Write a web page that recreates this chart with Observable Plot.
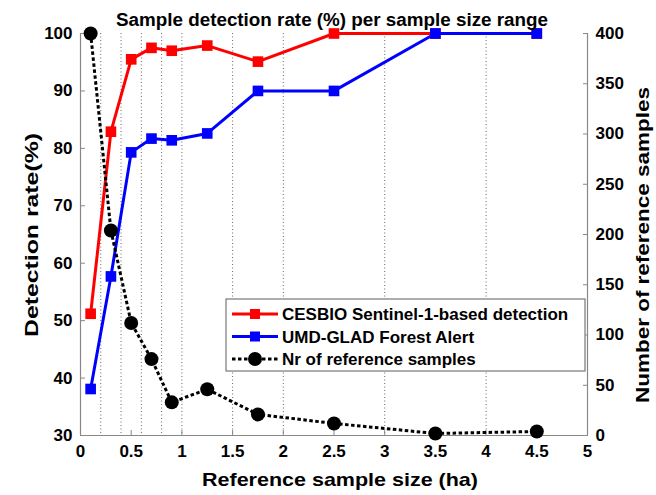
<!DOCTYPE html>
<html>
<head>
<meta charset="utf-8">
<script src="https://cdn.jsdelivr.net/npm/d3@7"></script>
<script src="https://cdn.jsdelivr.net/npm/@observablehq/plot@0.6"></script>
<style>
  html, body { margin: 0; padding: 0; background: #fff; }
  #chart { width: 656px; height: 495px; }
</style>
</head>
<body>
<div id="chart"></div>
<script>
// ---- data ----
const sizeMidpoints = [0.1, 0.3, 0.5, 0.7, 0.9, 1.25, 1.75, 2.5, 3.5, 4.5];
const cesbioRate = [51.2, 82.9, 95.5, 97.5, 97.0, 97.9, 95.1, 100, 100, 100];
const gladRate = [38.1, 57.7, 79.3, 81.7, 81.4, 82.6, 90, 90, 100, 100];
const sampleCounts = [400, 204, 112, 76, 33, 46, 21, 12, 2, 4];
const binEdges = [0.2, 0.4, 0.6, 0.8, 1, 1.5, 2, 3, 4];
const xTicks = [0, 0.5, 1, 1.5, 2, 2.5, 3, 3.5, 4, 4.5, 5];
const rateTicks = [30, 40, 50, 60, 70, 80, 90, 100];
const countTicks = [0, 50, 100, 150, 200, 250, 300, 350, 400];
const seriesNames = ["CESBIO Sentinel-1-based detection", "UMD-GLAD Forest Alert", "Nr of reference samples"];
const titleText = "Sample detection rate (%) per sample size range";
const xLabel = "Reference sample size (ha)";
const yLabel = "Detection rate(%)";
const y2Label = "Number of reference samples";

const rateDomain = [30, 100];
const countDomain = [0, 400];
// secondary axis: map counts onto the rate scale
const toRate = c => rateDomain[0] + (c - countDomain[0]) * (rateDomain[1] - rateDomain[0]) / (countDomain[1] - countDomain[0]);
const toCount = r => (r - rateDomain[0]) * (countDomain[1] - countDomain[0]) / (rateDomain[1] - rateDomain[0]) + countDomain[0];

const rows = sizeMidpoints.map((x, i) => ({x, cesbio: cesbioRate[i], glad: gladRate[i], count: sampleCounts[i]}));

const axisColor = "#888";
const font = "'Liberation Sans', Arial, Helvetica, sans-serif";

const chart = Plot.plot({
  width: 656,
  height: 495,
  marginTop: 33,
  marginBottom: 60,
  marginLeft: 80,
  marginRight: 69,
  style: {fontFamily: font, fontWeight: "bold", fontSize: "17px", color: "black", background: "white"},
  x: {domain: [0, 5]},
  y: {domain: rateDomain},
  marks: [
    Plot.ruleX(binEdges, {stroke: "#666", strokeWidth: 1, strokeDasharray: "1,2.5"}),
    Plot.ruleX([0, 5], {stroke: axisColor, strokeWidth: 1.2}),
    Plot.ruleY([30], {stroke: axisColor, strokeWidth: 1.2}),
    Plot.axisX(xTicks, {label: null, tickSize: -5, tickPadding: 14, stroke: axisColor, tickFormat: d => String(d), fontSize: 17}),
    Plot.axisY(rateTicks, {anchor: "left", label: null, tickSize: -5, tickPadding: 13, stroke: axisColor, tickFormat: d => String(d), fontSize: 17}),
    Plot.axisY(countTicks.map(toRate), {anchor: "right", label: null, tickSize: -5, tickPadding: 13, stroke: axisColor, tickFormat: d => String(Math.round(toCount(d))), fontSize: 17}),
    Plot.line(rows, {x: "x", y: "cesbio", stroke: "#ff0000", strokeWidth: 3}),
    Plot.dot(rows, {x: "x", y: "cesbio", symbol: "square", r: 6, fill: "#ff0000"}),
    Plot.line(rows, {x: "x", y: "glad", stroke: "#0000ff", strokeWidth: 3}),
    Plot.dot(rows, {x: "x", y: "glad", symbol: "square", r: 6, fill: "#0000ff"}),
    Plot.line(rows, {x: "x", y: d => toRate(d.count), stroke: "black", strokeWidth: 3, strokeDasharray: "3.5,2.5", strokeLinecap: "butt"}),
    Plot.dot(rows, {x: "x", y: d => toRate(d.count), r: 7, fill: "black"})
  ]
});

document.getElementById("chart").appendChild(chart);

// ---- titles, axis labels and legend ----
const svg = d3.select(chart);
const g = svg.append("g").attr("font-family", font).attr("font-weight", "bold").attr("fill", "black");
g.append("text").attr("x", 332).attr("y", 26).attr("text-anchor", "middle").attr("font-size", 18)
  .attr("textLength", 432).attr("lengthAdjust", "spacingAndGlyphs").text(titleText);
g.append("text").attr("x", 340).attr("y", 486).attr("text-anchor", "middle").attr("font-size", 19)
  .attr("textLength", 276).attr("lengthAdjust", "spacingAndGlyphs").text(xLabel);
g.append("text").attr("transform", "translate(38,235) rotate(-90)").attr("text-anchor", "middle").attr("font-size", 19)
  .attr("textLength", 204).attr("lengthAdjust", "spacingAndGlyphs").text(yLabel);
g.append("text").attr("transform", "translate(649,245) rotate(-90)").attr("text-anchor", "middle").attr("font-size", 19)
  .attr("textLength", 316).attr("lengthAdjust", "spacingAndGlyphs").text(y2Label);

const lg = g.append("g").attr("transform", "translate(226,299)");
lg.append("rect").attr("width", 359).attr("height", 72).attr("fill", "white").attr("stroke", "#777").attr("stroke-width", 1.2);
const styles = [
  {color: "#ff0000", dash: null, shape: "square"},
  {color: "#0000ff", dash: null, shape: "square"},
  {color: "black", dash: "3.5,2.5", shape: "circle"}
];
seriesNames.forEach((name, i) => {
  const y = 15 + i * 22.5;
  const s = styles[i];
  const row = lg.append("g").attr("transform", `translate(0,${y})`);
  const ln = row.append("line").attr("x1", 6).attr("x2", 52).attr("y1", 0).attr("y2", 0)
    .attr("stroke", s.color).attr("stroke-width", 3);
  if (s.dash) ln.attr("stroke-dasharray", s.dash);
  if (s.shape === "square") row.append("rect").attr("x", 24).attr("y", -5).attr("width", 10).attr("height", 10).attr("fill", s.color);
  else row.append("circle").attr("cx", 29).attr("cy", 0).attr("r", 7).attr("fill", s.color);
  row.append("text").attr("x", 56).attr("y", 6).attr("font-size", 17).attr("text-anchor", "start").text(name);
});
</script>
</body>
</html>
